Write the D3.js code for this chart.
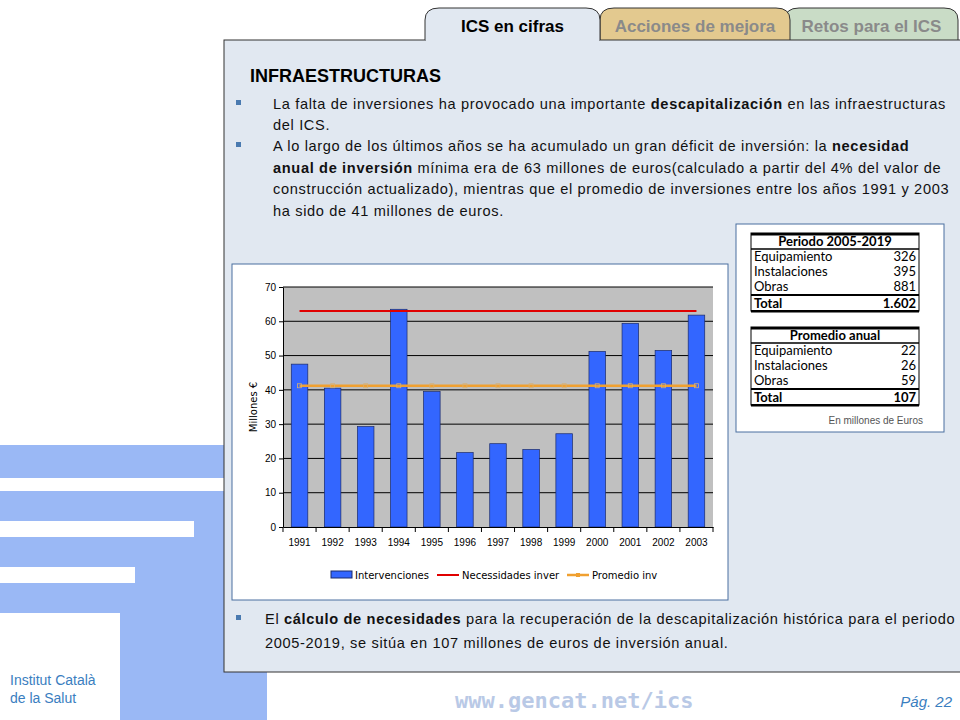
<!DOCTYPE html>
<html><head><meta charset="utf-8">
<script src="https://cdn.jsdelivr.net/npm/d3@7"></script>
<style>body{margin:0;background:#fff}svg{display:block;font-family:"Liberation Sans",Arial,sans-serif}</style>
</head><body><svg width="960" height="720"></svg>
<script>
var years = ["1991","1992","1993","1994","1995","1996","1997","1998","1999","2000","2001","2002","2003"];
var intervenciones = [47.5,40.5,29.3,63.5,39.5,21.7,24.3,22.6,27.2,51.2,59.4,51.5,61.8];
var necesidades = [63,63,63,63,63,63,63,63,63,63,63,63,63];
var promedio = [41.2,41.2,41.2,41.2,41.2,41.2,41.2,41.2,41.2,41.2,41.2,41.2,41.2];
var yTicks = [0,10,20,30,40,50,60,70];
var periodoRows = [["Equipamiento","326"],["Instalaciones","395"],["Obras","881"]];
var anualRows = [["Equipamiento","22"],["Instalaciones","26"],["Obras","59"]];

var svg = d3.select("svg");

// logo shapes
var blue = "#9ab8f5";
svg.append("rect").attr("x",0).attr("y",445).attr("width",267).attr("height",275).attr("fill",blue);
[[478,491,224],[521,537,194],[567,583,135],[613,720,120]].forEach(function(g){
	svg.append("rect").attr("x",0).attr("y",g[0]).attr("width",g[2]).attr("height",g[1]-g[0]).attr("fill","#fff");
});
svg.append("text").attr("x",10).attr("y",685).attr("fill","#3a7ec0").attr("font-size",14).text("Institut Català");
svg.append("text").attr("x",10).attr("y",703).attr("fill","#3a7ec0").attr("font-size",14).text("de la Salut");
svg.append("text").attr("x",455).attr("y",708).attr("fill","#b9c9e6").attr("font-size",22).attr("font-weight","bold")
	.attr("font-family","DejaVu Sans Mono,monospace").text("www.gencat.net/ics");
svg.append("text").attr("x",952).attr("y",707).attr("text-anchor","end").attr("fill","#3a7ec0").attr("font-size",15)
	.attr("font-style","italic").text("Pág. 22");

// tabs
function tab(x0,x1,fill,label,color){
	svg.append("path").attr("d","M"+x0+",40 L"+x0+",20 Q"+x0+",8 "+(x0+14)+",8 L"+(x1-14)+",8 Q"+x1+",8 "+x1+",20 L"+x1+",40")
		.attr("fill",fill).attr("stroke","#333");
	svg.append("text").attr("x",(x0+x1)/2).attr("y",32).attr("text-anchor","middle").attr("font-size",17)
		.attr("font-weight","bold").attr("fill",color).text(label);
}
tab(785,958,"#c9dcc6","Retos para el ICS","#8a8a8a");
tab(600,790,"#e3c98f","Acciones de mejora","#8a8a8a");
svg.append("rect").attr("x",224).attr("y",40).attr("width",740).attr("height",632).attr("fill","#e1e8f1").attr("stroke","#333");
tab(425,600,"#e1e8f1","ICS en cifras","#000");
svg.append("rect").attr("x",426).attr("y",38).attr("width",173).attr("height",4).attr("fill","#e1e8f1");

svg.append("text").attr("x",250).attr("y",82).attr("font-size",18).attr("font-weight","bold").text("INFRAESTRUCTURAS");

function para(lines,y0,lh,size,x0){
	lines.forEach(function(l,i){
		var t = svg.append("text").attr("x",x0||273).attr("y",y0+i*lh).attr("font-size",size)
			.attr("letter-spacing",0.65).attr("fill","#111");
		l.forEach(function(s){ t.append("tspan").attr("font-weight",s[1]?"bold":null).text(s[0]); });
	});
}
function bullet(y){ svg.append("rect").attr("x",236).attr("y",y).attr("width",5).attr("height",5).attr("fill","#4a7ab0"); }
bullet(100); bullet(142); bullet(615);
para([[["La falta de inversiones ha provocado una importante "],["descapitalización",1],[" en las infraestructuras"]],
	[["del ICS."]]],109,21,14.6);
para([[["A lo largo de los últimos años se ha acumulado un gran déficit de inversión: la "],["necesidad",1]],
	[["anual de inversión",1],[" mínima era de 63 millones de euros(calculado a partir del 4% del valor de"]],
	[["construcción actualizado), mientras que el promedio de inversiones entre los años 1991 y 2003"]],
	[["ha sido de 41 millones de euros."]]],151,21.5,14.6);
para([[["El "],["cálculo de necesidades",1],[" para la recuperación de la descapitalización histórica para el periodo"]],
	[["2005-2019, se sitúa en 107 millones de euros de inversión anual."]]],624,24,14.6,265);

// tables
svg.append("rect").attr("x",736).attr("y",224).attr("width",208).attr("height",208).attr("fill","#fff").attr("stroke","#4a6fa0");
function table(y0,title,rows,total){
	var x0=751,x1=919,rh=15;
	var g = svg.append("g").attr("font-family","Lato,Arial,sans-serif").attr("font-size",13);
	g.append("rect").attr("x",x0).attr("y",y0).attr("width",x1-x0).attr("height",rh*5+3).attr("fill","#fff").attr("stroke","#000");
	g.append("rect").attr("x",x0).attr("y",y0).attr("width",x1-x0).attr("height",2.5).attr("fill","#000");
	g.append("text").attr("x",(x0+x1)/2).attr("y",y0+13).attr("text-anchor","middle").attr("font-weight","bold").text(title);
	g.append("line").attr("x1",x0).attr("x2",x1).attr("y1",y0+16).attr("y2",y0+16).attr("stroke","#000").attr("stroke-width",1.5);
	rows.forEach(function(r,i){
		var y=y0+16+rh*(i+1)-3;
		g.append("text").attr("x",x0+3).attr("y",y).text(r[0]);
		g.append("text").attr("x",x1-3).attr("y",y).attr("text-anchor","end").text(r[1]);
	});
	var ty=y0+16+rh*3+1;
	g.append("line").attr("x1",x0).attr("x2",x1).attr("y1",ty).attr("y2",ty).attr("stroke","#000").attr("stroke-width",2);
	g.append("text").attr("x",x0+3).attr("y",ty+13).attr("font-weight","bold").text("Total");
	g.append("text").attr("x",x1-3).attr("y",ty+13).attr("text-anchor","end").attr("font-weight","bold").text(total);
	g.append("rect").attr("x",x0).attr("y",ty+15).attr("width",x1-x0).attr("height",2.5).attr("fill","#000");
}
table(233,"Periodo 2005-2019",periodoRows,"1.602");
table(327,"Promedio anual",anualRows,"107");
svg.append("text").attr("x",923).attr("y",424).attr("text-anchor","end").attr("font-size",10).attr("fill","#555").text("En millones de Euros");

// chart
svg.append("rect").attr("x",232).attr("y",264).attr("width",496).attr("height",336).attr("fill","#fff").attr("stroke","#4a6fa0");
var L=283,R=713,T=287,B=527;
var x = d3.scaleBand().domain(years).range([L,R]).paddingInner(0.5).paddingOuter(0.25);
var y = d3.scaleLinear().domain([0,70]).range([B,T]);
var cg = svg.append("g").attr("font-family","Tahoma,DejaVu Sans,sans-serif");
cg.append("rect").attr("x",L).attr("y",T).attr("width",R-L).attr("height",B-T).attr("fill","#c0c0c0");
yTicks.slice(1).forEach(function(t){
	cg.append("line").attr("x1",L).attr("x2",R).attr("y1",y(t)).attr("y2",y(t)).attr("stroke","#000");
});
cg.selectAll("rect.bar").data(intervenciones).enter().append("rect").attr("class","bar")
	.attr("x",function(d,i){ return x(years[i]); }).attr("width",x.bandwidth())
	.attr("y",function(d){ return y(d); }).attr("height",function(d){ return B-y(d); })
	.attr("fill","#3366ff").attr("stroke","#1a2a6a").attr("stroke-width",0.7);
var cx = function(d,i){ return x(years[i])+x.bandwidth()/2; };
var line = d3.line().x(cx).y(function(d){ return y(d); });
cg.append("path").datum(necesidades).attr("d",line).attr("fill","none").attr("stroke","#e00000").attr("stroke-width",2);
cg.append("path").datum(promedio).attr("d",line).attr("fill","none").attr("stroke","#f0a030").attr("stroke-width",2.5);
cg.selectAll("rect.pm").data(promedio).enter().append("rect").attr("class","pm")
	.attr("x",function(d,i){ return cx(d,i)-2; }).attr("y",function(d){ return y(d)-2; })
	.attr("width",4).attr("height",4).attr("fill","none").attr("stroke","#d8b070").attr("stroke-width",0.8);
var ya = cg.append("g").attr("transform","translate("+L+",0)")
	.call(d3.axisLeft(y).tickValues(yTicks).tickSize(4).tickSizeOuter(0));
var xa = cg.append("g").attr("transform","translate(0,"+B+")")
	.call(d3.axisBottom(x).tickSize(0).tickPadding(12));
xa.selectAll(".tick").append("line").attr("x1",-x.step()/2).attr("x2",-x.step()/2).attr("y2",5).attr("stroke","#000");
xa.append("line").attr("x1",R).attr("x2",R).attr("y2",5).attr("stroke","#000");
[ya,xa].forEach(function(a){ a.selectAll("text").attr("font-size",10).attr("fill","#000"); a.select(".domain").attr("stroke","#000"); });
cg.append("text").attr("transform","translate(257,407) rotate(-90)").attr("text-anchor","middle").attr("font-size",10).text("Millones €");

var lg = cg.append("g").attr("font-size",10);
lg.append("rect").attr("x",331).attr("y",571).attr("width",21).attr("height",7).attr("fill","#3366ff").attr("stroke","#1a2a6a");
lg.append("text").attr("x",355).attr("y",579).text("Intervenciones");
lg.append("line").attr("x1",437).attr("x2",459).attr("y1",575).attr("y2",575).attr("stroke","#e00000").attr("stroke-width",2);
lg.append("text").attr("x",462).attr("y",579).text("Necessidades inver");
lg.append("line").attr("x1",567).attr("x2",589).attr("y1",575).attr("y2",575).attr("stroke","#f0a030").attr("stroke-width",2.5);
lg.append("rect").attr("x",576).attr("y",573).attr("width",4).attr("height",4).attr("fill","#f0a030");
lg.append("text").attr("x",592).attr("y",579).text("Promedio inv");
</script></body></html>
